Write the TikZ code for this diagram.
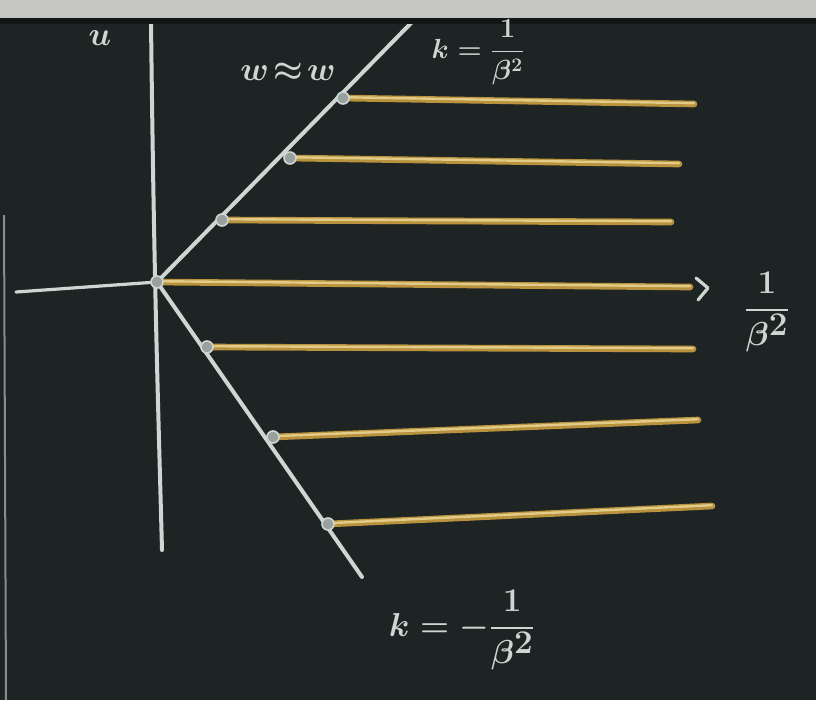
\documentclass[tikz,border=0pt]{standalone}
\usepackage{amsmath}
\definecolor{board}{HTML}{1E2424}
\definecolor{chalk}{HTML}{CDD6D2}
\definecolor{ochre}{HTML}{B8923C}
\definecolor{ochrelight}{HTML}{E2CB88}
\definecolor{strip}{HTML}{C6C6C4}
\begin{document}
\begin{tikzpicture}[x=0.75pt,y=-0.75pt,
  chalkline/.style={draw=chalk,line width=3pt,line cap=round},
  yellowline/.style={draw=ochre,line width=5pt,line cap=round},
  yellowcore/.style={draw=ochrelight,line width=1.8pt,line cap=round},
  dotmark/.style={circle,draw=chalk,fill=chalk!70!board,line width=1.2pt,inner sep=0pt,minimum size=9pt},
  chalktext/.style={text=chalk,inner sep=0pt,font=\boldmath}]
\useasboundingbox (0,0) rectangle (816,700);
\fill[board] (0,0) rectangle (816,700);
% named points
\coordinate (O) at (157,282);
\coordinate (vtop) at (151,22);
\coordinate (vbot) at (162,550);
\coordinate (hleft) at (16,292);
\coordinate (utop) at (418,16);
\coordinate (lbot) at (362,577);
\coordinate (u1) at (222,220);
\coordinate (u2) at (290,158);
\coordinate (u3) at (343,98);
\coordinate (l1) at (207,347);
\coordinate (l2) at (273,437);
\coordinate (l3) at (328,524);
\coordinate (e3) at (694,104);
\coordinate (e2) at (679,164);
\coordinate (e1) at (671,222);
\coordinate (e0) at (690,287);
\coordinate (f1) at (693,349);
\coordinate (f2) at (698,420);
\coordinate (f3) at (712,506);
\coordinate (arrowtip) at (708,288);
% left edge line
\draw[chalk!60!board,line width=1.5pt] (4,215) -- (6,700);
% axes
\draw[chalkline] (vtop) .. controls (154,280) and (158,400) .. (vbot);
\draw[chalkline,line width=2.4pt] (hleft) -- (O);
\draw[chalkline] (O) -- (utop);
\draw[chalkline] (O) -- (lbot);
% yellow lines
\foreach \a/\b in {u3/e3,u2/e2,u1/e1,O/e0,l1/f1,l2/f2,l3/f3}{
  \draw[yellowline] (\a) -- (\b);
  \draw[yellowcore] ([yshift=0.6pt]\a) -- ([yshift=0.6pt]\b);
}
% arrow head
\draw[chalkline,line width=2.4pt,line join=round] ([shift={(-12,-10)}]arrowtip) -- (arrowtip) -- ([shift={(-10,12)}]arrowtip);
% points
\foreach \p in {O,u1,u2,u3,l1,l2,l3}{ \node[dotmark] at (\p) {}; }
% top strip of the photo
\fill[strip] (0,0) rectangle (816,18);
\fill[board!60!black] (0,18) rectangle (816,24);
% labels
\node[chalktext,font=\boldmath\fontsize{26}{28}\selectfont] (ww) at (288,72) {$w\!\approx\! w$};
\node[chalktext,font=\boldmath\fontsize{20}{24}\selectfont] (ktop) at (478,52) {$k=\dfrac{1}{\beta^{2}}$};
\node[chalktext,font=\boldmath\fontsize{24}{28}\selectfont] (uleft) at (100,38) {$u$};
\node[chalktext,font=\boldmath\fontsize{50}{56}\selectfont] (rlab) at (767,312) {$\dfrac{1}{\beta^{2}}$};
\node[chalktext,font=\boldmath\fontsize{44}{50}\selectfont] (kbot) at (462,630) {$k=-\dfrac{1}{\beta^{2}}$};
\end{tikzpicture}
\end{document}
